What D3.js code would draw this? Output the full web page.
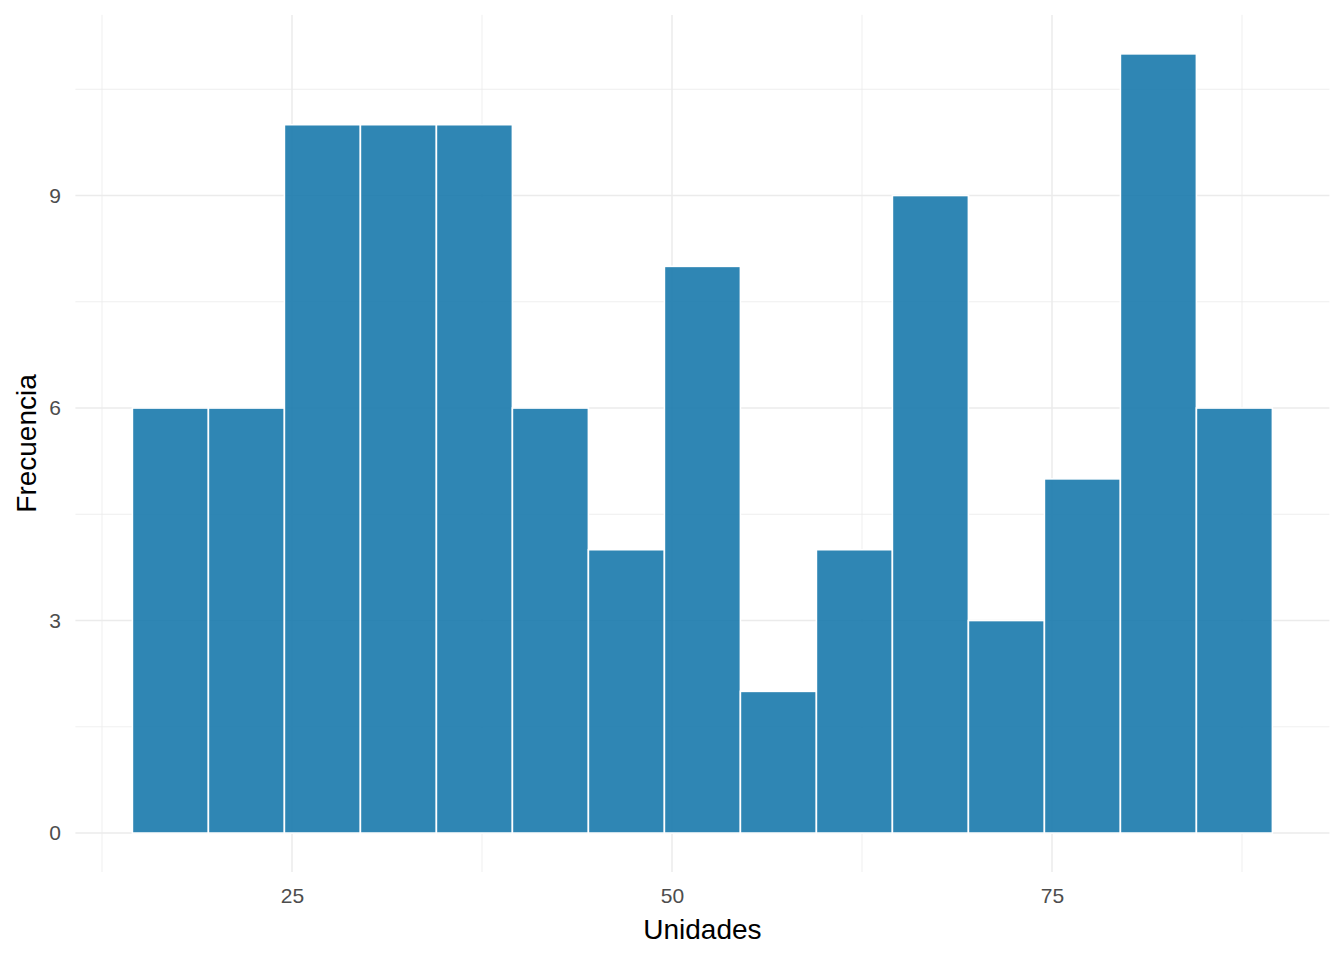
<!DOCTYPE html>
<html>
<head>
<meta charset="utf-8">
<script src="https://cdn.jsdelivr.net/npm/d3@7"></script>
<style>
  body { margin: 0; background: #fff; }
  text { font-family: "Liberation Sans", Arial, sans-serif; }
</style>
</head>
<body>
<div id="container"></div>
<script>
// histogram of Unidades, 5-unit bins
const binStarts = [14.5, 19.5, 24.5, 29.5, 34.5, 39.5, 44.5, 49.5, 54.5, 59.5, 64.5, 69.5, 74.5, 79.5, 84.5]
const binWidth = 5
const counts = [6, 6, 10, 10, 10, 6, 4, 8, 2, 4, 9, 3, 5, 11, 6]
const xMajor = [25, 50, 75]
const xMinor = [12.5, 37.5, 62.5, 87.5]
const yMajor = [0, 3, 6, 9]
const yMinor = [1.5, 4.5, 7.5, 10.5]

const width = 1344,
    height = 960
const panel = { left: 75.4, right: 1329.4, top: 14.9, bottom: 872 }

const svg = d3.select("#container")
    .append("svg")
    .attr("width", width)
    .attr("height", height)

const bins = binStarts.map((x0, i) => ({ x0: x0, x1: x0 + binWidth, n: counts[i] }))

const xScale = d3.scaleLinear()
    .domain([10.75, 93.25])
    .range([panel.left, panel.right])

const yScale = d3.scaleLinear()
    .domain([-0.55, 11.55])
    .range([panel.bottom, panel.top])

// grid
const grid = svg.append("g").attr("class", "grid")
grid.selectAll(".xminor").data(xMinor).enter().append("line")
    .attr("x1", d => xScale(d)).attr("x2", d => xScale(d))
    .attr("y1", panel.top).attr("y2", panel.bottom)
    .attr("stroke", "#EBEBEB").attr("stroke-width", 0.8)
grid.selectAll(".yminor").data(yMinor).enter().append("line")
    .attr("y1", d => yScale(d)).attr("y2", d => yScale(d))
    .attr("x1", panel.left).attr("x2", panel.right)
    .attr("stroke", "#EBEBEB").attr("stroke-width", 0.8)
grid.selectAll(".xmajor").data(xMajor).enter().append("line")
    .attr("x1", d => xScale(d)).attr("x2", d => xScale(d))
    .attr("y1", panel.top).attr("y2", panel.bottom)
    .attr("stroke", "#EBEBEB").attr("stroke-width", 1.5)
grid.selectAll(".ymajor").data(yMajor).enter().append("line")
    .attr("y1", d => yScale(d)).attr("y2", d => yScale(d))
    .attr("x1", panel.left).attr("x2", panel.right)
    .attr("stroke", "#EBEBEB").attr("stroke-width", 1.5)

// bars
svg.append("g").attr("class", "bars")
    .selectAll("rect")
    .data(bins)
    .enter()
    .append("rect")
    .attr("x", d => xScale(d.x0))
    .attr("y", d => yScale(d.n))
    .attr("width", d => xScale(d.x1) - xScale(d.x0))
    .attr("height", d => yScale(0) - yScale(d.n))
    .attr("fill", "#1879AC")
    .attr("fill-opacity", 0.9)
    .attr("stroke", "#ffffff")
    .attr("stroke-width", 1.6)

// axes
const xAxis = d3.axisBottom(xScale)
    .tickValues(xMajor)
    .tickSize(0)
    .tickPadding(16)
const yAxis = d3.axisLeft(yScale)
    .tickValues(yMajor)
    .tickSize(0)
    .tickPadding(14.4)

const gx = svg.append("g").attr("id", "x-axis")
    .attr("transform", `translate(0,${panel.bottom})`)
    .call(xAxis)
const gy = svg.append("g").attr("id", "y-axis")
    .attr("transform", `translate(${panel.left},0)`)
    .call(yAxis)

svg.selectAll("#x-axis .domain, #y-axis .domain").remove()
svg.selectAll("#x-axis text, #y-axis text")
    .attr("fill", "#4D4D4D")
    .style("font-size", "21px")
    .style("font-family", "'Liberation Sans', Arial, sans-serif")

// titles
svg.append("text")
    .attr("x", (panel.left + panel.right) / 2)
    .attr("y", 939)
    .attr("text-anchor", "middle")
    .style("font-size", "28px")
    .attr("fill", "#000")
    .text("Unidades")

svg.append("text")
    .attr("transform", `translate(36,${(panel.top + panel.bottom) / 2}) rotate(-90)`)
    .attr("text-anchor", "middle")
    .style("font-size", "28px")
    .attr("fill", "#000")
    .text("Frecuencia")
</script>
</body>
</html>
